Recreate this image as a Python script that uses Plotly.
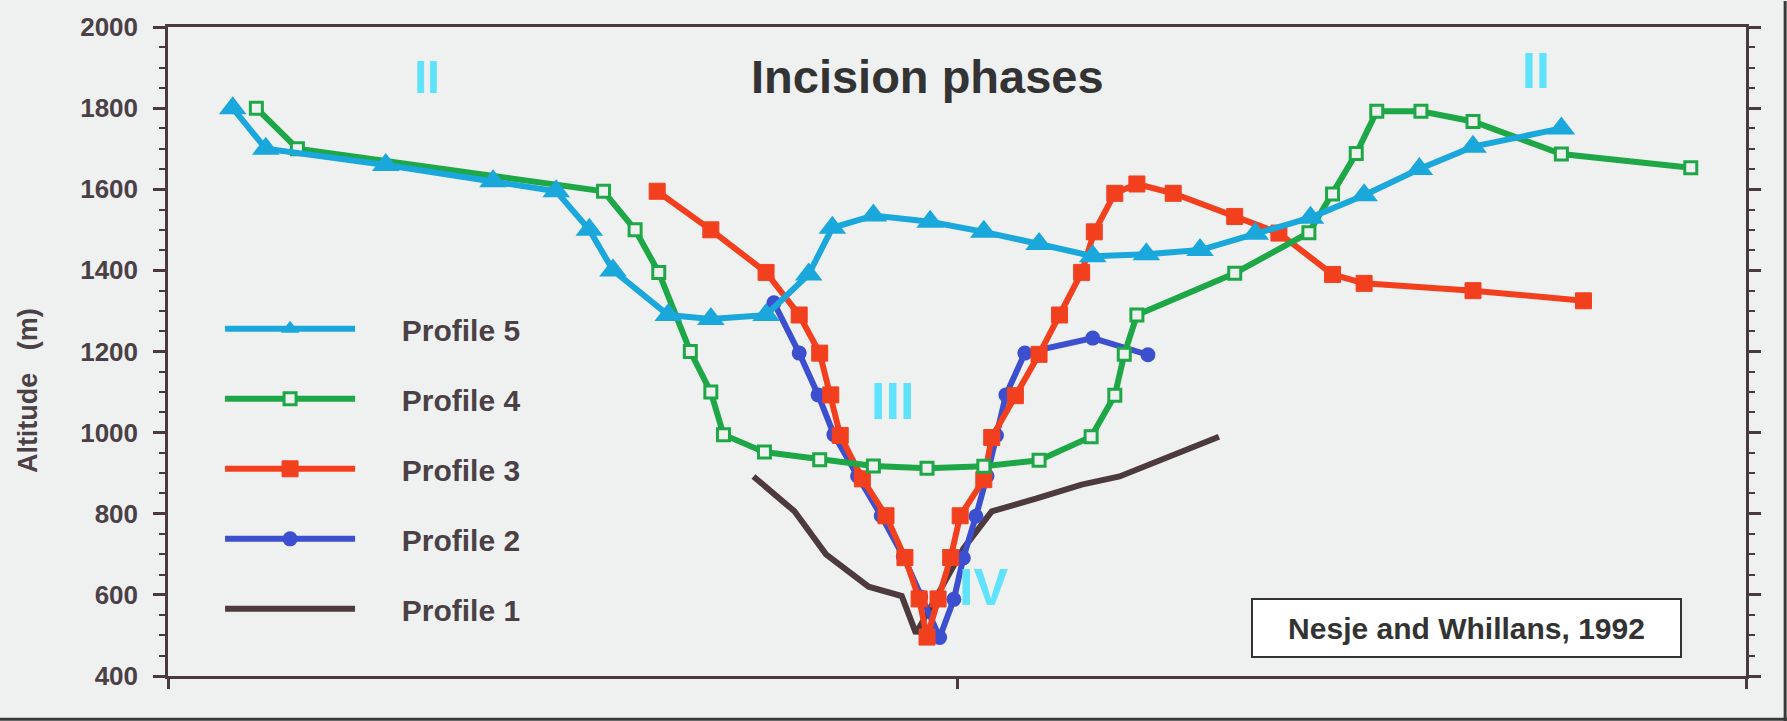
import plotly.graph_objects as go

# Cross-valley altitude profiles (distance along section in arbitrary units, altitude in m)
dist_p5 = [41, 62, 138, 206, 246, 267, 282, 317, 344, 379, 406, 421, 447, 483, 517, 552, 586, 620, 654, 689, 724, 758, 793, 827, 883]
alt_p5 = [1800, 1700, 1660, 1620, 1595, 1500, 1400, 1290, 1280, 1290, 1390, 1505, 1535, 1520, 1495, 1465, 1435, 1440, 1450, 1490, 1530, 1585, 1650, 1705, 1750]

dist_p4 = [56, 82, 276, 296, 311, 331, 344, 352, 378, 413, 447, 481, 517, 552, 585, 600, 606, 614, 676, 723, 738, 753, 766, 794, 827, 883, 965]
alt_p4 = [1800, 1700, 1595, 1500, 1395, 1200, 1100, 995, 952, 933, 918, 912, 917, 932, 990, 1092, 1193, 1290, 1393, 1493, 1588, 1688, 1792, 1792, 1767, 1687, 1653]

dist_p3 = [310, 344, 379, 400, 413, 420, 426, 440, 455, 467, 476, 481, 488, 496, 502, 517, 522, 537, 552, 565, 579, 587, 600, 614, 637, 676, 704, 738, 758, 827, 897]
alt_p3 = [1595, 1500, 1395, 1290, 1196, 1093, 993, 886, 795, 692, 590, 496, 590, 692, 795, 884, 988, 1091, 1193, 1290, 1395, 1495, 1590, 1613, 1590, 1533, 1492, 1390, 1368, 1350, 1325]

dist_p2 = [384, 400, 412, 422, 437, 452, 466, 477, 489, 498, 504, 512, 519, 525, 531, 543, 586, 621]
alt_p2 = [1320, 1196, 1093, 995, 893, 795, 695, 595, 495, 589, 691, 794, 893, 993, 1093, 1196, 1233, 1192]

dist_p1 = [371, 397, 417, 444, 465, 474, 504, 522, 550, 579, 603, 666]
alt_p1 = [892, 806, 700, 620, 597, 505, 714, 806, 837, 872, 892, 990]

y_ticks = [400, 600, 800, 1000, 1200, 1400, 1600, 1800, 2000]
x_ticks = [0, 500, 1000]

BG = "#eff1f1"
AXIS = "#4a3a40"
TEXT = "#4b4045"
FONT = "Liberation Sans, Arial, sans-serif"
NUMERAL = "#5fe3fc"
PAD = "\u00a0" * 5  # gap between legend sample line and its label

fig = go.Figure()

fig.add_trace(go.Scatter(
    x=dist_p1, y=alt_p1, name=PAD + "Profile 1", mode="lines", legendgroup="p1", legendrank=5,
    line=dict(color="#4d3a3d", width=6),
))
fig.add_trace(go.Scatter(
    x=dist_p2, y=alt_p2, name=PAD + "Profile 2", mode="lines+markers", legendgroup="p2", legendrank=4,
    line=dict(color="#3b4fcf", width=6),
    marker=dict(symbol="circle", size=15, color="#3b4fcf"),
))
fig.add_trace(go.Scatter(
    x=dist_p3, y=alt_p3, name=PAD + "Profile 3", mode="lines+markers", legendgroup="p3", legendrank=3,
    line=dict(color="#f2401f", width=6),
    marker=dict(symbol="square", size=16, color="#f2401f", line=dict(color="#f2401f", width=1)),
))
fig.add_trace(go.Scatter(
    x=dist_p4, y=alt_p4, name=PAD + "Profile 4", mode="lines+markers", legendgroup="p4", legendrank=2,
    line=dict(color="#1ea746", width=6),
    marker=dict(symbol="square", size=12, color=BG, line=dict(color="#1ea746", width=3)),
))
fig.add_trace(go.Scatter(
    x=dist_p5, y=alt_p5, name=PAD + "Profile 5", mode="lines+markers", legendgroup="p5", legendrank=1,
    line=dict(color="#1aa7db", width=6),
    marker=dict(symbol="triangle-up", size=24, color="#1aa7db"),
))

fig.update_xaxes(
    range=[0, 1000], tickvals=x_ticks, showticklabels=False,
    ticks="outside", ticklen=10, tickwidth=2.5, tickcolor=AXIS,
    showline=True, linecolor=AXIS, linewidth=2.5, mirror=True,
    showgrid=False, zeroline=False,
)
fig.update_yaxes(
    range=[400, 2000], tickvals=y_ticks,
    ticks="outside", ticklen=12, tickwidth=2.5, tickcolor=AXIS,
    minor=dict(dtick=50, ticks="outside", ticklen=6, tickwidth=2, tickcolor=AXIS),
    showline=True, linecolor=AXIS, linewidth=2.5, mirror="allticks",
    showgrid=False, zeroline=False,
    tickfont=dict(family=FONT, size=26, color=TEXT, weight="bold"),
    ticklabelstandoff=10,
)

annotations = [
    dict(text="Incision phases", x=481, y=1877, xref="x", yref="y", showarrow=False,
         font=dict(family=FONT, size=47, color="#333333", weight="bold")),
    dict(text="II", x=164, y=1877, xref="x", yref="y", showarrow=False,
         font=dict(family=FONT, size=46, color=NUMERAL, weight="bold")),
    dict(text="II", x=867, y=1892, xref="x", yref="y", showarrow=False,
         font=dict(family=FONT, size=50, color=NUMERAL, weight="bold")),
    dict(text="III", x=459, y=1077, xref="x", yref="y", showarrow=False,
         font=dict(family=FONT, size=52, color=NUMERAL, weight="bold")),
    dict(text="IV", x=517, y=619, xref="x", yref="y", showarrow=False,
         font=dict(family=FONT, size=52, color=NUMERAL, weight="bold")),
    dict(text="Nesje and Whillans, 1992", x=823, y=518, xref="x", yref="y", showarrow=False,
         width=427, height=56, bgcolor="#ffffff", bordercolor="#333333", borderwidth=2, borderpad=0,
         font=dict(family=FONT, size=30, color="#333333", weight="bold")),
    dict(text="Altitude\u00a0\u00a0\u00a0(m)", x=-0.0887, y=0.439, xref="paper", yref="paper",
         showarrow=False, textangle=-90, xanchor="center", yanchor="middle",
         font=dict(family=FONT, size=27, color=TEXT, weight="bold")),
]

# dark frame edges along the bottom and right of the figure
shapes = [
    dict(type="line", xref="paper", yref="paper", x0=-0.11, x1=1.03, y0=-0.0668, y1=-0.0668,
         line=dict(color="#3a3a3a", width=3)),
    dict(type="line", xref="paper", yref="paper", x0=1.0248, x1=1.0248, y0=-0.07, y1=1.04,
         line=dict(color="#3a3a3a", width=3)),
]

fig.update_layout(
    width=1787, height=721,
    margin=dict(l=168, r=41, t=25, b=45),
    paper_bgcolor=BG, plot_bgcolor=BG,
    showlegend=True,
    legend=dict(
        x=0.033, y=0.575, xanchor="left", yanchor="top",
        bgcolor="rgba(0,0,0,0)", itemwidth=130, tracegroupgap=28,
        traceorder="grouped",
        font=dict(family=FONT, size=30, color=TEXT, weight="bold"),
    ),
    annotations=annotations,
    shapes=shapes,
)

fig.write_html("out.html")
